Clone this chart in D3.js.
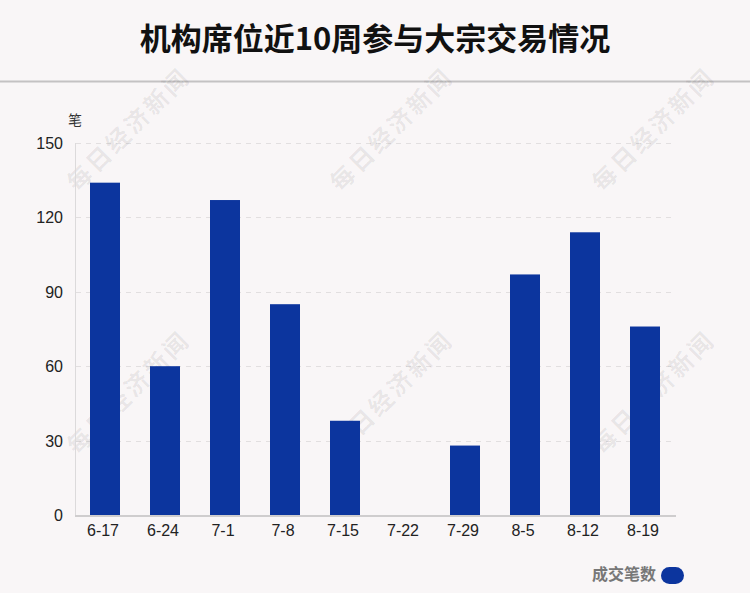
<!DOCTYPE html>
<html><head><meta charset="utf-8">
<script src="https://cdn.jsdelivr.net/npm/d3@7/dist/d3.min.js"></script>
<style>body{margin:0;background:#f9f6f7;}svg{display:block;}</style>
</head><body>
<svg id="c" width="750" height="593"></svg>
<script>
const categories = ["6-17","6-24","7-1","7-8","7-15","7-22","7-29","8-5","8-12","8-19"];
const values = [134,60,127,85,38,0,28,97,114,76];
const yTicks = [0,30,60,90,120,150];
const title = "机构席位近10周参与大宗交易情况";
const seriesName = "成交笔数";
const unit = "笔";
const watermark = "每日经济新闻";

const svg = d3.select("#c");
const W = 750, H = 593;
svg.append("rect").attr("width",W).attr("height",H).attr("fill","#f9f6f7");
const font = "'Liberation Sans', Arial, 'Noto Sans CJK SC', sans-serif";

svg.append("text").attr("x",375).attr("y",50).attr("text-anchor","middle")
  .attr("font-family","'Noto Sans CJK SC', sans-serif").attr("font-weight","bold")
  .attr("font-size",31).attr("fill","#111").text(title);
svg.append("line").attr("x1",0).attr("x2",W).attr("y1",81.5).attr("y2",81.5)
  .attr("stroke","#c4c2c3").attr("stroke-width",2);

const x = d3.scaleBand().domain(categories).range([75,675]).paddingInner(0.5).paddingOuter(0.25);
const y = d3.scaleLinear().domain([0,150]).range([515,143]);

// grid
svg.append("g").selectAll("line").data(yTicks.filter(d=>d>0)).join("line")
  .attr("x1",76).attr("x2",675).attr("y1",d=>Math.round(y(d))+0.5).attr("y2",d=>Math.round(y(d))+0.5)
  .attr("stroke","#e2dfe0").attr("stroke-dasharray","5,5");

// watermarks
const wm = [[130,131],[393,131],[655,131],[130,394],[393,394],[655,394]];
svg.append("g").selectAll("text").data(wm).join("text")
  .attr("transform",d=>`translate(${d[0]},${d[1]}) rotate(-45)`)
  .attr("text-anchor","middle").attr("dominant-baseline","middle")
  .attr("font-family","'Noto Sans CJK SC', sans-serif").attr("font-weight","bold")
  .attr("font-size",24).attr("fill","rgba(0,0,0,0.075)").attr("letter-spacing",3).text(watermark);

// left axis line
svg.append("line").attr("x1",75.5).attr("x2",75.5).attr("y1",143).attr("y2",515)
  .attr("stroke","#dcdadb").attr("stroke-width",1);

// bars
svg.append("g").selectAll("rect").data(values).join("rect")
  .attr("x",(d,i)=>x(categories[i])).attr("width",x.bandwidth())
  .attr("y",d=>y(d)).attr("height",d=>y(0)-y(d)).attr("fill","#0c359e");

// bottom axis
svg.append("line").attr("x1",75).attr("x2",676).attr("y1",516).attr("y2",516)
  .attr("stroke","#cfcdce").attr("stroke-width",2);

// y tick labels
svg.append("g").selectAll("text").data(yTicks).join("text")
  .attr("x",63).attr("y",d=>y(d)+6).attr("text-anchor","end")
  .attr("font-family",font).attr("font-size",16).attr("fill","#222").text(d=>d);
svg.append("text").attr("x",68).attr("y",125).attr("font-family","'Noto Sans CJK SC', sans-serif")
  .attr("font-size",14).attr("fill","#333").text(unit);

// x labels
svg.append("g").selectAll("text").data(categories).join("text")
  .attr("x",d=>x(d)+x.bandwidth()/2-2).attr("y",536).attr("text-anchor","middle")
  .attr("font-family",font).attr("font-size",16).attr("fill","#222").text(d=>d);

// legend
svg.append("text").attr("x",656).attr("y",580).attr("text-anchor","end")
  .attr("font-family","'Noto Sans CJK SC', sans-serif").attr("font-weight","bold")
  .attr("font-size",16).attr("fill","#777").text(seriesName);
svg.append("rect").attr("x",661).attr("y",567).attr("width",23).attr("height",17)
  .attr("rx",8.5).attr("ry",8.5).attr("fill","#0c359e");
</script>
</body></html>
